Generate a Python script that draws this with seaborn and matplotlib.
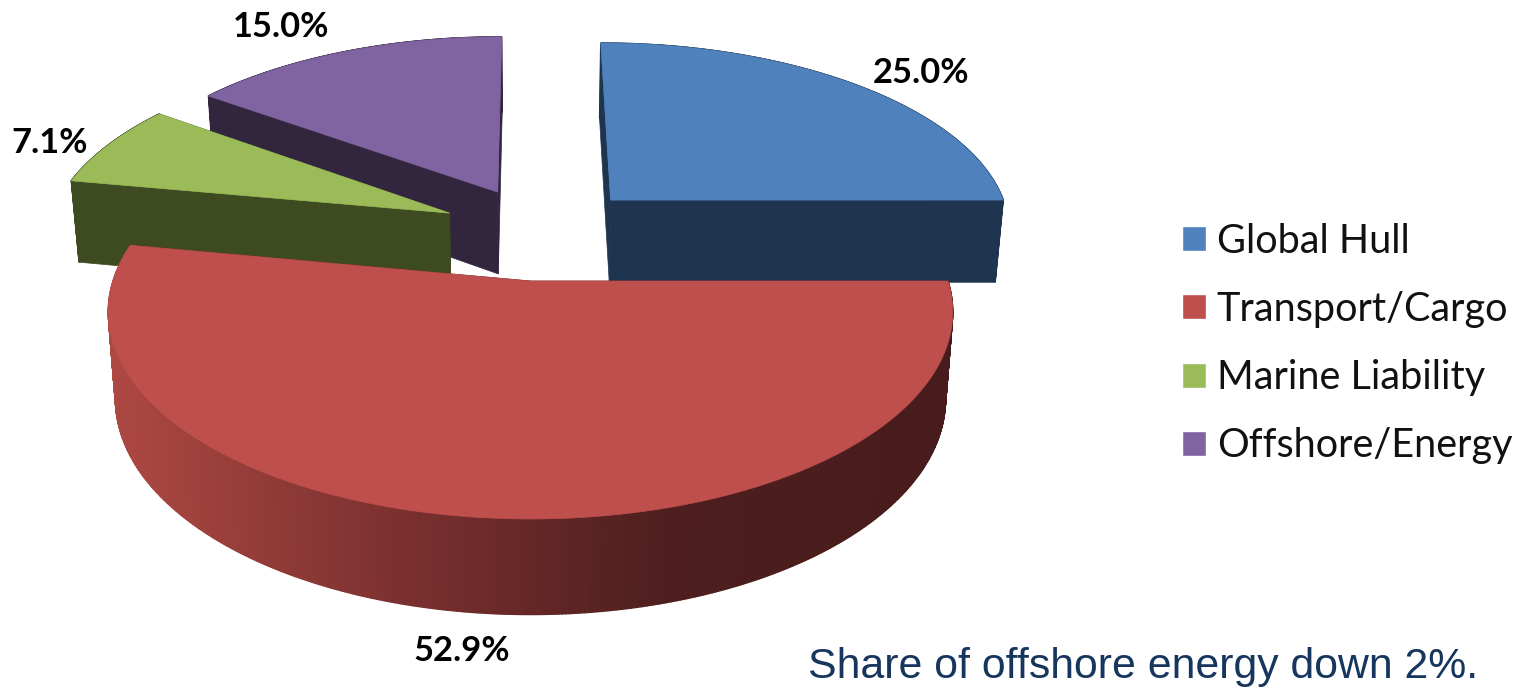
# 3D style exploded pie, marine premium shares
import numpy as np
import matplotlib
matplotlib.use('Agg')
import matplotlib.pyplot as plt
from matplotlib.patches import Patch
import seaborn as sns

labels = ['Global Hull', 'Transport/Cargo', 'Marine Liability', 'Offshore/Energy']
shares = [25.0, 52.9, 7.1, 15.0]
top_colors = ['#4F81BD', '#BE4F4C', '#9BBB59', '#8064A2']
side_colors = ['#1F344E', '#4A1C1C', '#3E4A20', '#32263F']
note = 'Share of offshore energy down 2%.'

# layout (pixels)
CX, CY = 530.5, 281
A, B = 417.5, 202.5
PERSP = 0.149
DROP, B_LOW, X_LOW = 85.6, 211, 0.983
offsets = [(0.204, 0.425), (0.0, 0.0), (-0.204, 0.353), (-0.084, 0.47)]
label_xy = [(921, 73), (462, 651), (50, 143), (281, 27)]
draw_order = [3, 2, 0, 1]

sns.set_theme(style='white')


def project(x, y, low=False):
    s = 1 / (1 + PERSP * y)
    if low:
        return CX + A * X_LOW * x * s, CY + DROP - B_LOW * y * s
    return CX + A * x * s, CY - B * y * s


def draw_slice(ax, t0, t1, off, top, side, gradient=None):
    ts = np.radians(np.linspace(t0, t1, 500))
    xs = off[0] + np.sin(ts)
    ys = off[1] + np.cos(ts)
    px, py = project(xs, ys)
    lx, ly = project(xs, ys, low=True)
    ax_top, ay_top = project(off[0], off[1])
    ax_low, ay_low = project(off[0], off[1], low=True)

    # two cut faces
    for i in (0, -1):
        ax.fill([ax_top, px[i], lx[i], ax_low], [ay_top, py[i], ly[i], ay_low],
                color=side, lw=0.5)

    # outer wall, strip by strip
    for i in range(len(ts) - 1):
        c = side
        if gradient is not None:
            pos = (px[i] - px.min()) / (px.max() - px.min())
            c = gradient[int(pos * (len(gradient) - 1))]
        ax.fill([px[i], px[i + 1], lx[i + 1], lx[i]],
                [py[i], py[i + 1], ly[i + 1], ly[i]], color=c, lw=1.0)

    ax.fill(np.r_[ax_top, px], np.r_[ay_top, py], color=top, lw=0.5)


fig = plt.figure(figsize=(15.15, 6.88), dpi=100)
ax = fig.add_axes([0, 0, 1, 1])
ax.set_xlim(0, 1515)
ax.set_ylim(688, 0)
ax.axis('off')

edges = np.r_[0, np.cumsum(shares)] / np.sum(shares) * 360
red_wall = sns.blend_palette(['#AD4843', '#7C3130', '#4E1E1E', '#481C1C'], 500)

for i in draw_order:
    draw_slice(ax, edges[i], edges[i + 1], offsets[i], top_colors[i], side_colors[i],
               gradient=red_wall if i == 1 else None)

for v, (x, y) in zip(shares, label_xy):
    ax.text(x, y, f'{v:.1f}%', ha='center', va='center', fontsize=24.8,
            fontweight='bold', family='Lato', color='black')

handles = [Patch(facecolor=c, label=l) for c, l in zip(top_colors, labels)]
ax.legend(handles=handles, loc='center left', bbox_to_anchor=(1182 / 1515, 1 - 343.5 / 688),
          frameon=False, prop={'family': 'Lato', 'size': 28.5}, labelspacing=0.79,
          handlelength=0.6, handleheight=0.6, handletextpad=0.28, borderpad=0,
          borderaxespad=0, labelcolor='#111111')

ax.text(1143, 667, note, ha='center', va='center', fontsize=30.8,
        family='Liberation Sans', color='#17365D')

fig.savefig('out.png', dpi=100)
